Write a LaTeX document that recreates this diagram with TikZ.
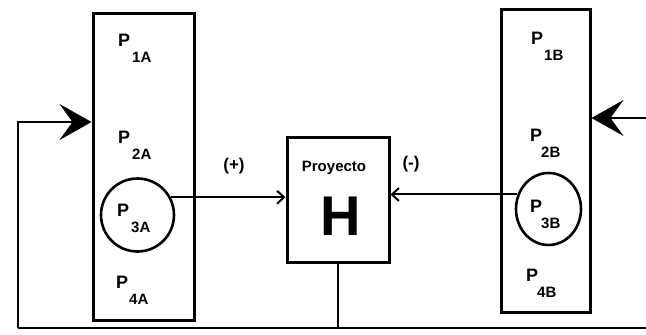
\documentclass[tikz,border=0pt]{standalone}
\usepackage{fontspec}
\setmainfont{Liberation Sans}
\usetikzlibrary{arrows.meta,shapes.geometric}
\newcommand\plab[2]{\fontsize{18}{18}\selectfont\bfseries P\kern#2pt\raisebox{-16pt}{\fontsize{15}{15}\selectfont #1}}
\tikzset{
  box/.style={draw, line width=3pt, rectangle, inner sep=0pt},
  ring/.style={draw, line width=2.6pt, ellipse, inner sep=0pt},
  wire/.style={line width=2.8pt},
  thin wire/.style={line width=2pt},
  smallhead/.style={-{Straight Barb[length=7pt,width=13pt,line width=2pt]}},
  bighead/.style={-{Stealth[length=32pt,width=36pt,inset=13pt]}},
  lbl/.style={anchor=base west, inner sep=0pt},
}
\begin{document}
\begin{tikzpicture}[x=1pt,y=-1pt]
\useasboundingbox (0,0) rectangle (646,335);
% boxes
\node[box, minimum width=101pt, minimum height=307pt] (lbox) at (143.5,166.5) {};
\node[box, minimum width=89pt, minimum height=303pt] (rbox) at (545.5,160.5) {};
\node[box, minimum width=102pt, minimum height=125pt] (hbox) at (338,199.5) {};
% circles
\node[ring, minimum width=73pt, minimum height=73pt] (c3a) at (137.5,215) {};
\node[ring, minimum width=65pt, minimum height=72pt] (c3b) at (548.5,209) {};
% labels left
\node[lbl] (p1a) at (118,46) {\plab{1A}{2}};
\node[lbl] (p2a) at (118,143) {\plab{2A}{2}};
\node[lbl] (p3a) at (117,216) {\plab{3A}{2}};
\node[lbl] (p4a) at (116,288) {\plab{4A}{1}};
% labels right
\node[lbl] (p1b) at (531,44) {\plab{1B}{1}};
\node[lbl] (p2b) at (530,141) {\plab{2B}{-1}};
\node[lbl] (p3b) at (530,212) {\plab{3B}{-1}};
\node[lbl] (p4b) at (526,281) {\plab{4B}{-1}};
% H box text
\node[inner sep=0pt] (proy) at (334,168) {\fontsize{15}{15}\selectfont\bfseries Proyecto};
\node[inner sep=0pt] (hlet) at (341,216) {\fontsize{56}{56}\selectfont\bfseries H};
% signs
\node[inner sep=0pt] (plus) at (234,166) {\fontsize{17}{17}\selectfont\bfseries (+)};
\node[inner sep=0pt] (minus) at (411,164) {\fontsize{17}{17}\selectfont\bfseries (-)};
% arrows into H
\draw[thin wire, smallhead] (c3a.28) -- (c3a.28 -| hbox.west);
\draw[thin wire, smallhead] (c3b.155) -- (c3b.155 -| hbox.east);
% feedback loop
\coordinate (bl) at (18,328);
\coordinate (br) at (646,328);
\coordinate (lt) at (18,122);
\coordinate (rt) at (646,118);
\draw[wire] (hbox.south) -- (hbox.south |- bl);
\draw[wire] (br) -- (bl);
\draw[wire, bighead] (bl) -- (lt) -- (lt -| lbox.west);
\draw[wire, bighead] (rt) -- (rt -| rbox.east);
\end{tikzpicture}
\end{document}
